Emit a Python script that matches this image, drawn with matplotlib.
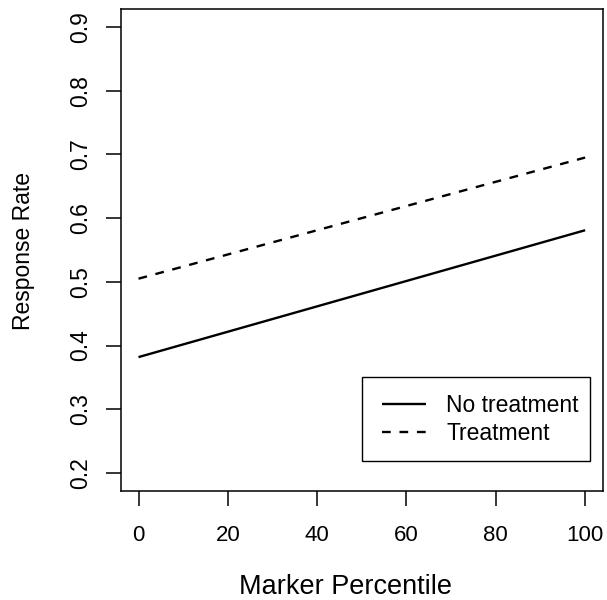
import numpy as np
import matplotlib.pyplot as plt
from matplotlib.patches import Rectangle

plt.rcParams['font.family'] = ['Liberation Sans', 'DejaVu Sans']

# Fitted response rate at each end of the marker percentile range
percentile = [0, 100]
no_treatment = [0.382, 0.581]
treatment = [0.505, 0.695]

xticks = [0, 20, 40, 60, 80, 100]
yticks = [0.2, 0.3, 0.4, 0.5, 0.6, 0.7, 0.8, 0.9]

fig = plt.figure(figsize=(6.07, 6.00), dpi=100)
ax = fig.add_axes([0.1988, 0.1817, 0.7946, 0.8033])

ax.plot(percentile, no_treatment, color='black', lw=1.7, solid_capstyle='butt',
        label='No treatment')
ax.plot(percentile, treatment, color='black', lw=1.7, dashes=(3.7, 3.7),
        dash_capstyle='butt', label='Treatment')

# R style 4% padding on both axes
ax.set_xlim(-4, 104)
ax.set_ylim(0.172, 0.928)
ax.set_xticks(xticks)
ax.set_xticklabels([str(v) for v in xticks])
ax.set_yticks(yticks)
ax.set_yticklabels([f'{v:.1f}' for v in yticks], rotation=90, va='center')

for s in ax.spines.values():
    s.set_linewidth(1.1)
ax.tick_params(axis='both', direction='out', length=10.5, width=1.1)
ax.tick_params(axis='x', pad=14, labelsize=16)
ax.tick_params(axis='y', pad=10, labelsize=16.5)

ax.set_xlabel('Marker Percentile', fontsize=19.5, va='center')
ax.xaxis.set_label_coords(0.467, -0.200)
ax.set_ylabel('Response Rate', fontsize=16.5, va='center')
ax.yaxis.set_label_coords(-0.2005, 0.498)

# legend box drawn separately so the padding can be uneven, like base R
ax.add_patch(Rectangle((0.5003, 0.0622), 0.4727, 0.1743, transform=ax.transAxes,
                       facecolor='white', edgecolor='black', lw=1.0, zorder=3))
leg = ax.legend(loc='center left', bbox_to_anchor=(0.5412, 0.1483),
                fontsize=16.5, frameon=False, borderpad=0, borderaxespad=0,
                handlelength=1.92, handletextpad=0.9, labelspacing=0.24)
leg.set_zorder(4)

fig.savefig('out.png', dpi=100)
